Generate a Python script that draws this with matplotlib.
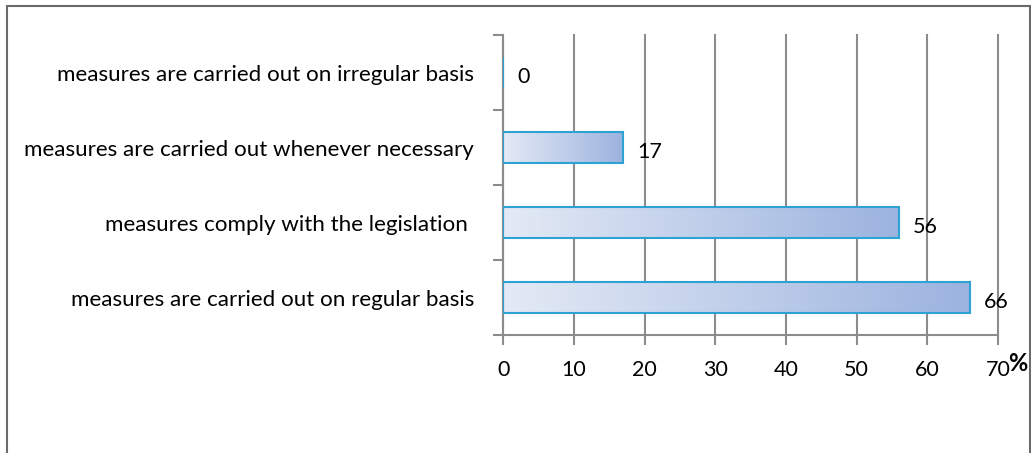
import numpy as np
import matplotlib
matplotlib.use('Agg')
import matplotlib.pyplot as plt
from matplotlib.patches import Rectangle

categories = ['measures are carried out on regular basis',
              'measures comply with the legislation ',
              'measures are carried out whenever necessary',
              'measures are carried out on irregular basis']
values = [66, 56, 17, 0]
x_ticks = [0, 10, 20, 30, 40, 50, 60, 70]

plt.rcParams['font.family'] = ['Lato', 'DejaVu Sans']

fig = plt.figure(figsize=(10.31, 4.53), dpi=100)
ax = fig.add_axes([0.488, 0.2605, 0.48, 0.662])

# outer frame
fig.patches.append(Rectangle((0.007, -0.01), 0.992, 0.997, transform=fig.transFigure,
                             fill=False, edgecolor='#6a6a6a', linewidth=1.5))

ypos = np.arange(len(categories))
bars = ax.barh(ypos, values, height=0.41, color='none', edgecolor='#2ea3d3', linewidth=1.5, zorder=3)

# gradient fill inside each bar
grad = np.linspace(0, 1, 256).reshape(1, -1)
cmap = matplotlib.colors.LinearSegmentedColormap.from_list('g', ['#e4eaf5', '#9cb3df'])
for b, v in zip(bars, values):
    if v <= 0:
        continue
    x0, y0 = b.get_x(), b.get_y()
    im = ax.imshow(grad, cmap=cmap, aspect='auto', extent=[x0, x0 + v, y0, y0 + b.get_height()], zorder=2)
    im.set_clip_path(b)

for y, v in zip(ypos, values):
    ax.text(v + 2.0, y - 0.06, str(v), va='center', ha='left', fontsize=15.5)

ax.set_xlim(0, 70)
ax.set_ylim(-0.5, len(categories) - 0.5)
ax.set_xticks(x_ticks)
ax.set_xticklabels([str(t) for t in x_ticks], fontsize=15.5)
ax.set_yticks(ypos)
ax.set_yticklabels(categories, fontsize=16.1)
ax.tick_params(axis='y', length=0, pad=21)
ax.set_yticks(np.arange(-0.5, len(categories), 1), minor=True)
ax.tick_params(axis='y', which='minor', length=7, color='#8c8c8c', width=1.5)
ax.tick_params(axis='x', length=7, color='#8c8c8c', width=1.5, pad=11)
ax.grid(axis='x', color='#8c8c8c', linewidth=1.5, zorder=0)
for gl in ax.get_xgridlines():
    gl.set_clip_on(False)
ax.set_axisbelow(True)
for s in ['top', 'right']:
    ax.spines[s].set_visible(False)
for s in ['left', 'bottom']:
    ax.spines[s].set_color('#8c8c8c')
    ax.spines[s].set_linewidth(1.5)

fig.text(0.978, 0.198, '%', fontsize=17, fontweight='bold', ha='left', va='center')

fig.savefig('out.png', dpi=100)
